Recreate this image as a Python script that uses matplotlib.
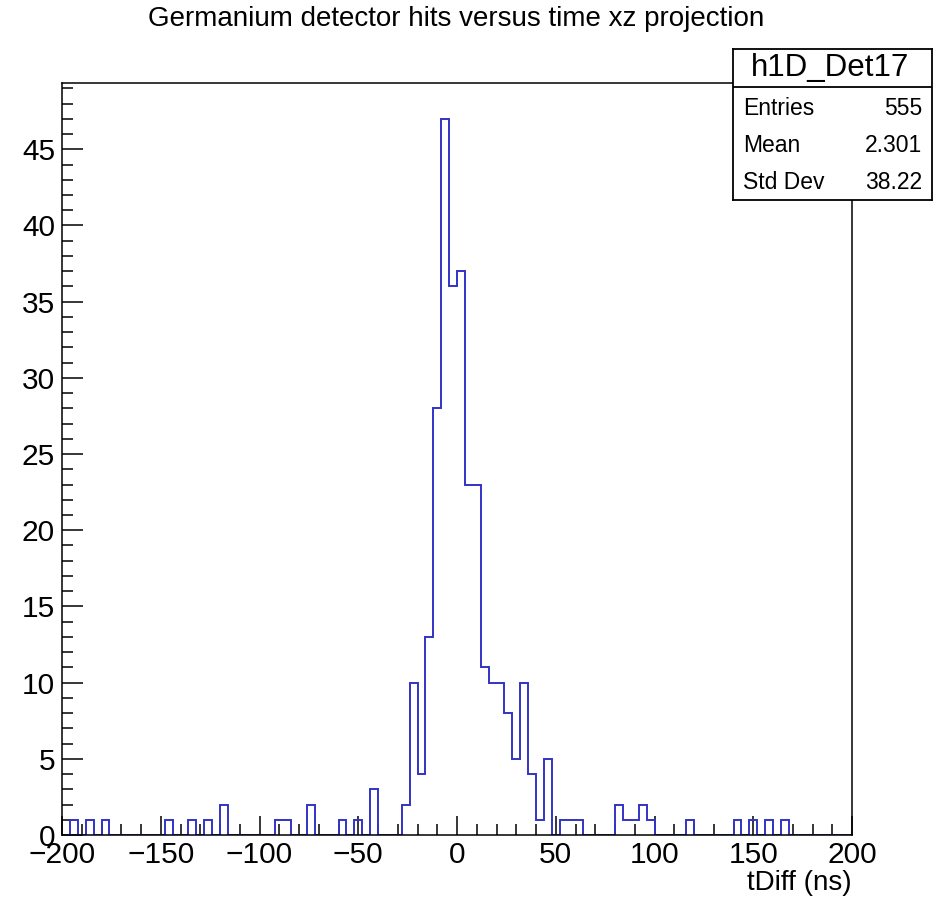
"""
Germanium detector hits versus time (xz projection), ROOT-style TH1 outline.
"""
import matplotlib
matplotlib.use("Agg")
import matplotlib.pyplot as plt
import numpy as np

plt.rcParams["font.family"] = ["Liberation Sans", "DejaVu Sans"]

# histogram binning: 100 bins of 4 ns from -200 to 200
x_min, x_max, bin_width = -200, 200, 4

# non-empty bins: lower edge (ns) and count
bin_lows = [-196, -188, -180, -148, -136, -128, -120, -92, -88, -76, -60, -52, -44,
            -28, -24, -20, -16, -12, -8, -4, 0, 4, 8, 12, 16, 20, 24, 28, 32, 36, 40, 44,
            52, 56, 60, 80, 84, 88, 92, 96, 116, 140, 148, 156, 164]
bin_counts = [1, 1, 1, 1, 1, 1, 2, 1, 1, 2, 1, 1, 3,
              2, 10, 4, 13, 28, 47, 36, 37, 23, 23, 11, 10, 10, 8, 5, 10, 4, 1, 5,
              1, 1, 1, 2, 1, 1, 2, 1, 1, 1, 1, 1, 1]

hist_name = "h1D_Det17"
stat_labels = ["Entries", "Mean", "Std Dev"]
stat_values = ["555", "2.301", "38.22"]

edges = np.arange(x_min, x_max + bin_width, bin_width)
counts = np.zeros(len(edges) - 1)
for lo, c in zip(bin_lows, bin_counts):
    counts[(lo - x_min) // bin_width] = c

W, H, DPI = 939, 901, 100
fig = plt.figure(figsize=(W / DPI, H / DPI), dpi=DPI)
ax = fig.add_axes([62 / W, 1 - 835 / H, (852 - 62) / W, (835 - 83) / H])

ax.stairs(counts, edges, baseline=0, color="#3333c6", linewidth=1.4, zorder=2)

ax.set_xlim(x_min, x_max)
ax.set_ylim(0, counts.max() * 1.05)
ax.set_xticks(np.arange(-200, 201, 50))
ax.set_xticks(np.arange(-200, 201, 10), minor=True)
ax.set_yticks(np.arange(0, 46, 5))
ax.set_yticks(np.arange(0, 50, 1), minor=True)

for sp in ax.spines.values():
    sp.set_linewidth(1.1)
ax.tick_params(which="both", direction="in", top=False, right=False, width=1.1)
ax.tick_params(axis="x", which="major", length=14, labelsize=21.5, pad=4)
ax.tick_params(axis="x", which="minor", length=8)
ax.tick_params(axis="y", which="major", length=15, labelsize=21.5, pad=5)
ax.tick_params(axis="y", which="minor", length=8)

fig.text(456 / W, 1 - 19 / H, "Germanium detector hits versus time xz projection",
         ha="center", va="center", fontsize=20)
fig.text(852 / W, 1 - 883 / H, "tDiff (ns)", ha="right", va="center", fontsize=20)

# stats box drawn over the frame
sb = fig.add_axes([733 / W, 1 - 200 / H, (932 - 733) / W, (200 - 49) / H])
sb.set_xticks([])
sb.set_yticks([])
sb.set_xlim(0, 1)
sb.set_ylim(0, 1)
sb.set_facecolor("white")
for sp in sb.spines.values():
    sp.set_linewidth(1.3)
sb.axhline(0.75, color="black", linewidth=1.3)
sb.text(0.49, 0.877, hist_name, ha="center", va="center", fontsize=22.5)
for lab, val, y in zip(stat_labels, stat_values, [0.609, 0.358, 0.113]):
    sb.text(0.05, y, lab, ha="left", va="center", fontsize=16.5)
    sb.text(0.95, y, val, ha="right", va="center", fontsize=16.5)

fig.savefig("out.png", dpi=DPI)
plt.close(fig)
